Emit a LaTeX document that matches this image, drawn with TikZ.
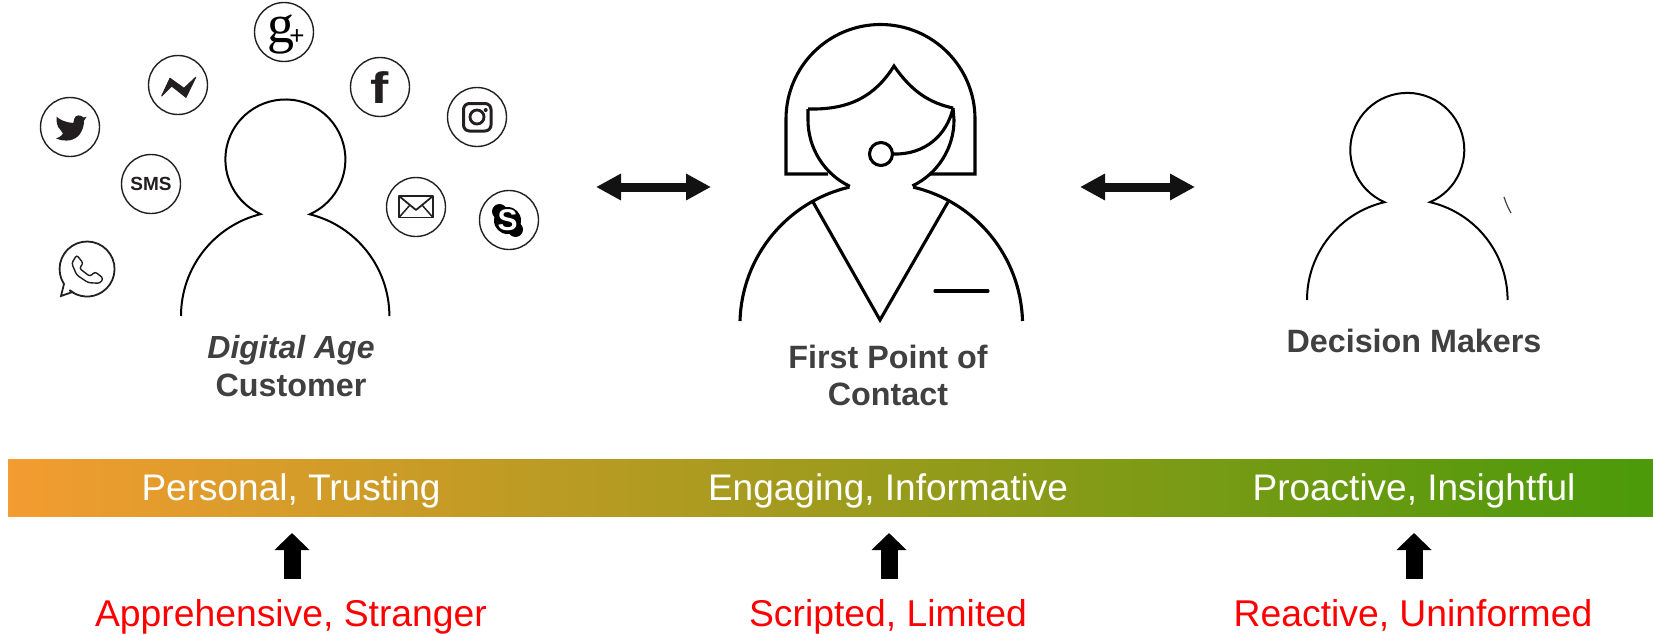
\documentclass[tikz,border=0pt]{standalone}
\usepackage{fontspec}
\setmainfont{Liberation Sans}
\newfontfamily\gfont{Liberation Serif}
\usetikzlibrary{arrows.meta}
\definecolor{lbl}{HTML}{404040}
\definecolor{icon}{HTML}{231F20}
\definecolor{barl}{HTML}{F39C30}
\definecolor{barr}{HTML}{4A9A0A}
\tikzset{
  outl/.style={draw=black,line width=2pt,line join=miter},
  outlb/.style={draw=black,line width=3.1pt,line join=miter},
  badge/.style={circle,draw=icon,line width=1.4pt,minimum size=59pt,inner sep=0pt},
  who/.style={font=\fontsize{32.3}{36}\selectfont\bfseries,text=lbl,anchor=base},
  bartxt/.style={font=\fontsize{37}{40}\selectfont,text=white,anchor=base},
  redtxt/.style={font=\fontsize{37.3}{40}\selectfont,text=red,anchor=base},
  dbl/.style={{Triangle[length=25pt,width=25pt]}-{Triangle[length=25pt,width=25pt]},line width=9pt,draw=black!93},
  upa/.style={-{Triangle[length=17pt,width=34pt]},line width=17pt,draw=black},
}
\begin{document}
\begin{tikzpicture}[x=1pt,y=-1pt]
\useasboundingbox (0,0) rectangle (1653,634);
% customer
\draw[outl] (181,316) arc[start angle=180,end angle=104,radius=105pt]
  arc[start angle=245.6,end angle=-66,radius=60pt]
  arc[start angle=76,end angle=0,radius=105pt];
% first point of contact
\draw[outlb] (740,321) arc[start angle=178.4,end angle=103.1,radius=141.5pt];
\draw[outlb] (1022.5,321) arc[start angle=1.6,end angle=76.9,radius=141.5pt];
\draw[outlb] (808,109) -- (808,120) arc[start angle=180,end angle=244.5,radius=73.5pt];
\draw[outlb] (953,108) -- (954,120) arc[start angle=0,end angle=-64.5,radius=73pt];
\draw[outlb] (828,174) -- (786,174) -- (786,119) arc[start angle=180,end angle=0,radius=94.5pt] -- (975,174) -- (930,174);
\draw[outlb] (808,109) .. controls (850,110) and (875,96) .. (894,66) .. controls (912,92) and (930,103) .. (953,108);
\draw[outlb] (893,154) .. controls (925,155) and (947,135) .. (953,108);
\node[circle,draw=black,line width=3.1pt,minimum size=23pt,inner sep=0pt] (mic) at (881,154) {};
\draw[outlb] (813,202) -- (880,320) -- (948,202);
\draw[outlb,line cap=round] (935,291) -- (988,291);
% decision makers
\draw[outl] (1307,300) arc[start angle=180,end angle=103.2,radius=100.5pt]
  arc[start angle=246.5,end angle=-66.5,radius=57pt]
  arc[start angle=76.8,end angle=0,radius=100.5pt];
\draw[black!75,line width=1.2pt] (1504,197) .. controls (1506,203) and (1508,208) .. (1511,213);
% badges
\node[badge] (tw) at (70,127) {};
\fill[icon] (86.7,116.7) -- (83.5,117.5) .. controls (81,114.5) and (75,114.5) .. (74.2,119) -- (73.3,123)
  .. controls (66,122.5) and (60,120) .. (56.7,116.7) .. controls (56,121) and (57,127) .. (60.5,130) -- (63,133.5)
  .. controls (61,136.5) and (58,138) .. (56,138.5) .. controls (66,142.5) and (75,140.5) .. (79.5,134.5)
  .. controls (83,130) and (84,125) .. (84,120.7) -- cycle;
\node[badge] (fbm) at (178,85) {};
\fill[icon,draw=icon,line width=1pt,line join=round] (161.7,96) -- (170,78.3) -- (184,88.3) -- (195.7,77.3) -- (186,97.3) -- (171.7,86) -- cycle;
\node[badge,font=\fontsize{19}{20}\selectfont\bfseries,text=icon] (sms) at (151,184) {SMS};
\coordinate (wa) at (87,269);
\draw[icon,line width=1.8pt,line join=miter] (64,284) arc[start angle=213,end angle=-130,radius=27.5pt] -- (72.5,292) -- (61,296) -- cycle;
\draw[icon,line width=1.4pt,rounded corners=2.5pt] (76.7,255) -- (83.3,263.3) -- (79.3,268.3) -- (90,276.5) -- (95,271.7) -- (103.3,278.3) -- (100,283.3) -- (88.3,282.7) -- (76.7,275) -- (71.7,263.3) -- cycle;
\node[badge] (gp) at (284,32) {};
\node[font=\gfont\fontsize{54}{54}\selectfont,text=black,inner sep=0pt,anchor=base] (gg) at (281,43) {g};
\node[font=\fontsize{26}{26}\selectfont,text=black,inner sep=0pt] (gplus) at (297,37) {+};
\node[badge] (fb) at (380,87) {};
\node[font=\fontsize{44}{44}\selectfont\bfseries,text=icon,inner sep=0pt,anchor=base,xscale=1.25] (ff) at (380,103) {f};
\node[badge] (ig) at (477,117) {};
\draw[icon,line width=3pt,rounded corners=6pt] (463.5,103.5) rectangle (491,131);
\node[circle,draw=icon,line width=2.8pt,minimum size=14pt,inner sep=0pt] (igc) at (477,117) {};
\fill[icon] (485.7,110) circle[radius=2pt];
\node[badge] (ml) at (416,207) {};
\draw[icon,line width=1.8pt,line join=round] (399,196) rectangle (433,217.5);
\draw[icon,line width=1.8pt,line join=round] (399,196) -- (416,210) -- (433,196);
\draw[icon,line width=1.5pt] (399,217.5) -- (410,205) (433,217.5) -- (422,205);
\node[badge] (sk) at (509,220) {};
\fill[black] (507.5,220.5) circle[radius=13.5pt] (499.5,211.5) circle[radius=7.5pt] (515.5,229.5) circle[radius=7.5pt];
\node[font=\fontsize{30}{30}\selectfont\bfseries,text=white,inner sep=0pt] (ss) at (507.5,220) {S};
% arrows
\coordinate (a1) at (596,187); \coordinate (a2) at (711,187);
\coordinate (b1) at (1080,187); \coordinate (b2) at (1195,187);
\draw[dbl] (a1) -- (a2);
\draw[dbl] (b1) -- (b2);
% person labels
\node[who,font=\fontsize{32}{36}\selectfont\bfseries\itshape] (l1) at (291,358) {Digital Age};
\node[who] (l2) at (291,396) {Customer};
\node[who] (l3) at (888,368) {First Point of};
\node[who] (l4) at (888,405) {Contact};
\node[who] (l5) at (1414,352) {Decision Makers};
% bar
\path[left color=barl,right color=barr] (8,459) rectangle (1653,516.5);
\node[bartxt] (t1) at (291,500) {Personal, Trusting};
\node[bartxt] (t2) at (888,500) {Engaging, Informative};
\node[bartxt] (t3) at (1414,500) {Proactive, Insightful};
% up arrows
\coordinate (u1s) at (292,579); \coordinate (u1e) at (292,533);
\coordinate (u2s) at (889,579); \coordinate (u2e) at (889,533);
\coordinate (u3s) at (1414,579); \coordinate (u3e) at (1414,533);
\draw[upa] (u1s) -- (u1e);
\draw[upa] (u2s) -- (u2e);
\draw[upa] (u3s) -- (u3e);
\node[redtxt] (r1) at (291,626) {Apprehensive, Stranger};
\node[redtxt] (r2) at (888,626) {Scripted, Limited};
\node[redtxt] (r3) at (1413,626) {Reactive, Uninformed};
\end{tikzpicture}
\end{document}
